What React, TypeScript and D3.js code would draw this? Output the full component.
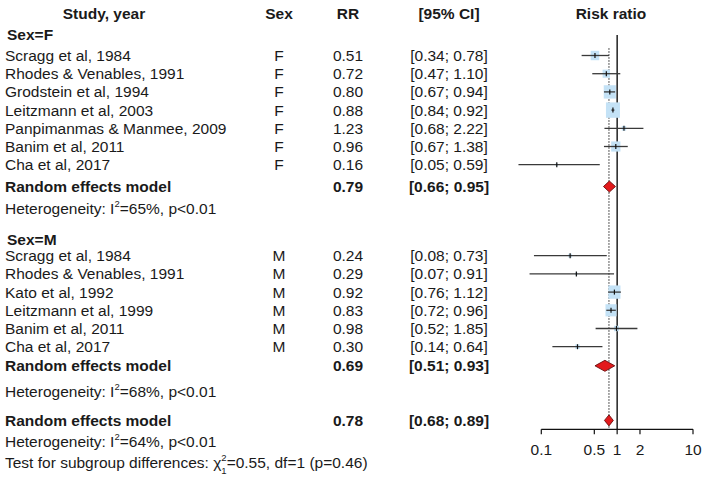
import React from 'react';
import * as d3 from 'd3';

const headers = ["Study, year", "Sex", "RR", "[95% CI]", "Risk ratio"];
const groupLabels = ["Sex=F", "Sex=M"];
const groupCodes = ["F", "M"];

const studiesF = ["Scragg et al, 1984", "Rhodes & Venables, 1991", "Grodstein et al, 1994", "Leitzmann et al, 2003", "Panpimanmas & Manmee, 2009", "Banim et al, 2011", "Cha et al, 2017"];
const rrF = [0.51, 0.72, 0.80, 0.88, 1.23, 0.96, 0.16];
const lowerF = [0.34, 0.47, 0.67, 0.84, 0.68, 0.67, 0.05];
const upperF = [0.78, 1.10, 0.94, 0.92, 2.22, 1.38, 0.59];
const weightF = [12, 9, 24, 32, 3, 14, 1];

const studiesM = ["Scragg et al, 1984", "Rhodes & Venables, 1991", "Kato et al, 1992", "Leitzmann et al, 1999", "Banim et al, 2011", "Cha et al, 2017"];
const rrM = [0.24, 0.29, 0.92, 0.83, 0.98, 0.30];
const lowerM = [0.08, 0.07, 0.76, 0.72, 0.52, 0.14];
const upperM = [0.73, 0.91, 1.12, 0.96, 1.85, 0.64];
const weightM = [2, 1, 24, 20, 4, 3];

const pooledRR = [0.79, 0.69, 0.78];
const pooledLower = [0.66, 0.51, 0.68];
const pooledUpper = [0.95, 0.93, 0.89];
const hetI2 = [65, 68, 64];
const hetP = ["p<0.01", "p<0.01", "p<0.01"];
const subgroupChi2 = 0.55;
const subgroupDf = 1;
const subgroupP = 0.46;

const axisTicks = [0.1, 0.5, 1, 2, 10];

const W = 707, H = 484;
const FONT = "'Liberation Sans', Arial, Helvetica, sans-serif";
const FS = 15.5;
const TXT = "#1a1a1a";

export default function App() {
  const x = d3.scaleLog().domain([0.1, 10]).range([541.3, 693]);
  const row = d3.scaleLinear().domain([0, 1]).range([55.5, 73.7]);
  const size = d3.scaleSqrt().domain([0, 32]).range([0, 14]);

  const colStudy = 5, colSex = 279, colRR = 348, colCI = 449, colPlot = 611;

  const fmt = (v: number) => v.toFixed(2);
  const ci = (a: number, b: number) => `[${fmt(a)}; ${fmt(b)}]`;

  type Study = { name: string; sex: string; rr: number; lo: number; hi: number; w: number; r: number };
  const studies: Study[] = [
    ...studiesF.map((n, i) => ({ name: n, sex: groupCodes[0], rr: rrF[i], lo: lowerF[i], hi: upperF[i], w: weightF[i], r: i })),
    ...studiesM.map((n, i) => ({ name: n, sex: groupCodes[1], rr: rrM[i], lo: lowerM[i], hi: upperM[i], w: weightM[i], r: 11 + i })),
  ];

  const headerRow = -2.33;
  const groupRows = [-1.15, 10.1];
  const pooledRows = [7.2, 17.05, 20.05];
  const hetRows = [8.4, 18.45, 21.2];
  const testRow = 22.35;
  const axisY = 429.3;

  const hetText = (i: number, r: number) => (
    <text key={"het" + i} x={colStudy} y={row(r)} dy="0.35em" fontSize={FS} fill={TXT}>
      Heterogeneity: I
      <tspan fontSize={9.5} dy={-7}>2</tspan>
      <tspan fontSize={FS} dy={7}>{`=${hetI2[i]}%, ${hetP[i]}`}</tspan>
    </text>
  );

  return (
    <svg width={W} height={H} style={{ position: 'absolute', left: 0, top: 0, background: '#fff' }} fontFamily={FONT}>
      <rect width={W} height={H} fill="#fff" />
      {/* headers */}
      <g fontWeight="bold" fontSize={FS} fill={TXT} textAnchor="middle">
        <text x={104} y={row(headerRow)} dy="0.35em">{headers[0]}</text>
        <text x={colSex} y={row(headerRow)} dy="0.35em">{headers[1]}</text>
        <text x={colRR} y={row(headerRow)} dy="0.35em">{headers[2]}</text>
        <text x={colCI} y={row(headerRow)} dy="0.35em">{headers[3]}</text>
        <text x={colPlot} y={row(headerRow)} dy="0.35em">{headers[4]}</text>
      </g>
      {/* group labels */}
      {groupLabels.map((g, i) => (
        <text key={g} x={colStudy + 2} y={row(groupRows[i])} dy="0.35em" fontSize={FS} fontWeight="bold" fill={TXT}>{g}</text>
      ))}
      {/* study rows text */}
      {studies.map((s, i) => (
        <g key={"t" + i} fontSize={FS} fill={TXT}>
          <text x={colStudy} y={row(s.r)} dy="0.35em">{s.name}</text>
          <text x={colSex} y={row(s.r)} dy="0.35em" textAnchor="middle">{s.sex}</text>
          <text x={colRR} y={row(s.r)} dy="0.35em" textAnchor="middle">{fmt(s.rr)}</text>
          <text x={colCI} y={row(s.r)} dy="0.35em" textAnchor="middle">{ci(s.lo, s.hi)}</text>
        </g>
      ))}
      {/* pooled rows text */}
      {pooledRR.map((p, i) => (
        <g key={"p" + i} fontSize={FS} fill={TXT} fontWeight="bold">
          <text x={colStudy} y={row(pooledRows[i])} dy="0.35em">Random effects model</text>
          <text x={colRR} y={row(pooledRows[i])} dy="0.35em" textAnchor="middle">{fmt(p)}</text>
          <text x={colCI} y={row(pooledRows[i])} dy="0.35em" textAnchor="middle">{ci(pooledLower[i], pooledUpper[i])}</text>
        </g>
      ))}
      {hetRows.map((r, i) => hetText(i, r))}
      <text x={colStudy} y={row(testRow)} dy="0.35em" fontSize={FS} fill={TXT}>
        Test for subgroup differences: χ
        <tspan fontSize={9.5} dy={-7}>2</tspan>
        <tspan fontSize={9.5} dx={-5.3} dy={13}>1</tspan>
        <tspan fontSize={FS} dy={-6}>{`=${subgroupChi2.toFixed(2)}, df=${subgroupDf} (p=${subgroupP.toFixed(2)})`}</tspan>
      </text>

      {/* reference lines */}
      <line x1={x(1)} x2={x(1)} y1={row(-1.13)} y2={axisY} stroke="#111" strokeWidth={1.4} />
      <line x1={x(pooledRR[2])} x2={x(pooledRR[2])} y1={row(-0.4)} y2={axisY} stroke="#222" strokeWidth={1} strokeDasharray="1.5,1.5" />

      {/* squares */}
      {studies.map((s, i) => {
        const sz = size(s.w);
        return <rect key={"sq" + i} x={x(s.rr) - sz / 2} y={row(s.r) - sz * 0.55} width={sz} height={sz * 1.1} fill="#c4e2f6" />;
      })}
      {/* CI lines */}
      {studies.map((s, i) => (
        <g key={"ci" + i}>
          <line x1={x(s.lo)} x2={x(s.hi)} y1={row(s.r)} y2={row(s.r)} stroke="#3a3a3a" strokeWidth={1.3} />
          <line x1={x(s.rr)} x2={x(s.rr)} y1={row(s.r) - 2.5} y2={row(s.r) + 2.5} stroke="#111" strokeWidth={1.2} />
        </g>
      ))}
      {/* diamonds */}
      {pooledRR.map((p, i) => {
        const y = row(pooledRows[i]);
        const h = 5.5;
        const pts = [[x(pooledLower[i]), y], [x(p), y - h], [x(pooledUpper[i]), y], [x(p), y + h]];
        return <polygon key={"d" + i} points={pts.map(q => q.join(',')).join(' ')} fill="#e31a1c" stroke="#6a0d0d" strokeWidth={0.9} />;
      })}

      {/* axis */}
      <line x1={x(0.1)} x2={x(10)} y1={axisY} y2={axisY} stroke="#111" strokeWidth={1.2} />
      {axisTicks.map(t => (
        <g key={"tk" + t}>
          <line x1={x(t)} x2={x(t)} y1={axisY} y2={axisY + 5} stroke="#111" strokeWidth={1.2} />
          <text x={x(t)} y={449.5} dy="0.35em" textAnchor="middle" fontSize={FS} fill={TXT}>{String(t)}</text>
        </g>
      ))}
    </svg>
  );
}
